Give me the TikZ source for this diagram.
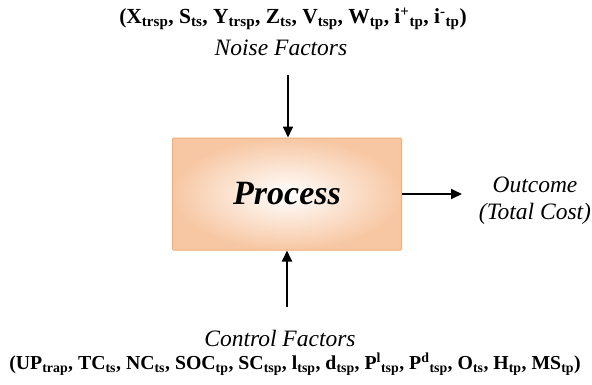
\documentclass[tikz,border=0pt]{standalone}
\usepackage{fontspec}
\setmainfont{Liberation Serif}
\usetikzlibrary{arrows.meta}
\definecolor{peach}{HTML}{F7C7A3}
\definecolor{peachedge}{HTML}{F4AE78}
\tikzset{
  conn/.style={line width=1.8pt, -{Triangle[length=11pt,width=10pt]}},
  lbl/.style={inner sep=0pt, font=\fontsize{23.5}{27}\selectfont\itshape},
  lst/.style={inner sep=0pt, font=\fontsize{19.8}{22}\selectfont\bfseries},
}
\newcommand{\sbs}[1]{\textsubscript{#1}}
\newcommand{\sps}[1]{\textsuperscript{#1}}
\begin{document}
\begin{tikzpicture}[x=1pt,y=-1pt]
\useasboundingbox (0,0) rectangle (592,384);
\node[draw=peachedge, line width=1pt, minimum width=229pt, minimum height=112pt,
  inner color=white, outer color=peach, rounded corners=1pt] (proc) at (287,194)
  {\fontsize{34}{36}\selectfont\bfseries\itshape Process};
\node[lst, font=\fontsize{21.5}{23}\selectfont\bfseries] (noiselist) at (293,19) {(X\sbs{trsp}, S\sbs{ts}, Y\sbs{trsp}, Z\sbs{ts}, V\sbs{tsp}, W\sbs{tp}, i\sps{+}\sbs{tp}, i\sps{-}\sbs{tp})};
\node[lbl] (noise) at (281,48) {Noise Factors};
\coordinate (ntop) at (288,75);
\draw[conn] (ntop) -- (proc.north -| ntop);
\node[lbl, align=center] (out) at (535,201) {Outcome\\(Total Cost)};
\draw[conn] (proc.east) -- (462,194) coordinate (oend);
\coordinate (cbot) at (287,307);
\draw[conn] (cbot) -- (proc.south -| cbot);
\node[lbl] (control) at (280,338) {Control Factors};
\node[lst] (ctrllist) at (295,364) {(UP\sbs{trap}, TC\sbs{ts}, NC\sbs{ts}, SOC\sbs{tp}, SC\sbs{tsp}, l\sbs{tsp}, d\sbs{tsp}, P\sps{l}\sbs{tsp}, P\sps{d}\sbs{tsp}, O\sbs{ts}, H\sbs{tp}, MS\sbs{tp})};
\end{tikzpicture}
\end{document}
